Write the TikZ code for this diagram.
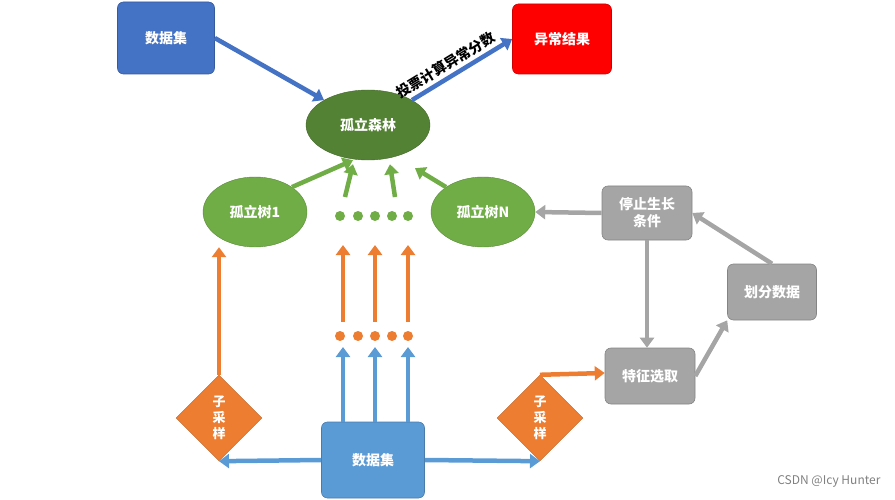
\documentclass[tikz,border=0pt]{standalone}
\usepackage{fontspec}
\setmainfont{Noto Sans CJK SC}
\usetikzlibrary{shapes.geometric,arrows.meta}
\definecolor{bl}{HTML}{4472C4}\definecolor{lb}{HTML}{5B9BD5}
\definecolor{dg}{HTML}{548235}\definecolor{lg}{HTML}{70AD47}
\definecolor{or}{HTML}{ED7D31}\definecolor{gr}{HTML}{A5A5A5}
\begin{document}
\begin{tikzpicture}[x=1pt,y=-1pt,font=\bfseries\fontsize{14}{17}\selectfont,
 box/.style={rounded corners=6pt,draw=#1!80!black,fill=#1,text=white,align=center,line width=0.6pt},
 ell/.style={ellipse,fill=#1,draw=#1!80!black,text=white},
 dia/.style={diamond,fill=or,draw=or!80!black,text=white,minimum width=86pt,minimum height=86pt,inner sep=0pt,align=center,font=\bfseries\fontsize{13}{16}\selectfont},
 ar/.style={line width=4.5pt,draw=#1,-{Triangle[length=10pt,width=14pt]}},
 dot/.style={circle,fill=#1,inner sep=0pt,minimum size=10pt}]
\useasboundingbox (0,0) rectangle (895,500);
\node[box=bl,minimum width=97pt,minimum height=72pt] (d1) at (166,38) {数据集};
\node[box=red,minimum width=99pt,minimum height=70pt] (res) at (562,39) {异常结果};
\node[ell=dg,minimum width=124pt,minimum height=70pt] (f) at (368,125) {孤立森林};
\node[ell=lg,minimum width=104pt,minimum height=70pt] (t1) at (255,212) {孤立树1};
\node[ell=lg,minimum width=104pt,minimum height=70pt] (tn) at (483,212) {孤立树N};
\node[box=gr,minimum width=90pt,minimum height=54pt] (stop) at (647,213) {停止生长\\条件};
\node[box=gr,minimum width=89pt,minimum height=56pt] (div) at (772,292) {划分数据};
\node[box=gr,minimum width=90pt,minimum height=56pt] (feat) at (650,376) {特征选取};
\node[box=lb,minimum width=103pt,minimum height=76pt] (d2) at (373,460) {数据集};
\node[dia] (ls) at (219,418) {子\\采\\样};
\node[dia] (rs) at (540,418) {子\\采\\样};
\foreach \x [count=\i] in {340,358,375,392,408} {
 \node[dot=lg] (g\i) at (\x,216) {};
 \node[dot=or] (o\i) at (\x,336) {};}
\draw[ar=bl] (d1.east) -- (f.north west);
\draw[ar=bl] (f.north east) -- node[sloped,above,text=black,pos=0.4,font=\bfseries\fontsize{14}{16}\selectfont]{投票计算异常分数} (res.west);
\draw[ar=lg] (t1.north east) -- ([xshift=-15pt]f.south);
\coordinate (u1) at (345,197);\coordinate (u2) at (395,197);
\draw[ar=lg] (u1) -- ([xshift=-15pt,yshift=-4pt]f.south);
\draw[ar=lg] (u2) -- ([xshift=22pt,yshift=-4pt]f.south);
\draw[ar=lg] (tn.north west) -- ([xshift=47pt,yshift=-8pt]f.south);
\foreach \x/\n in {343/1,375/2,408/3} {
 \coordinate (a\n) at (\x,245); \coordinate (b\n) at (\x,322); \coordinate (c\n) at (\x,347);
 \draw[ar=or] (b\n) -- (a\n);
 \draw[ar=lb] (d2.north -| c\n) -- (c\n);}
\draw[ar=or] (ls.north) -- (ls.north |- t1.south);
\draw[ar=or] (rs.north) -- ([yshift=3pt]feat.west);
\draw[ar=lb] (d2.west) -- (ls.south);
\draw[ar=lb] (d2.east) -- (rs.south);
\draw[ar=gr] (stop.west) -- (tn.east);
\draw[ar=gr] (stop.south) -- (stop.south |- feat.north);
\draw[ar=gr] (feat.east) -- (div.south west);
\draw[ar=gr] (div.north) -- (stop.east);
\node[text=gray,font=\fontsize{12}{14}\selectfont,anchor=east] (wm) at (884,481) {CSDN @Icy Hunter};
\end{tikzpicture}
\end{document}
